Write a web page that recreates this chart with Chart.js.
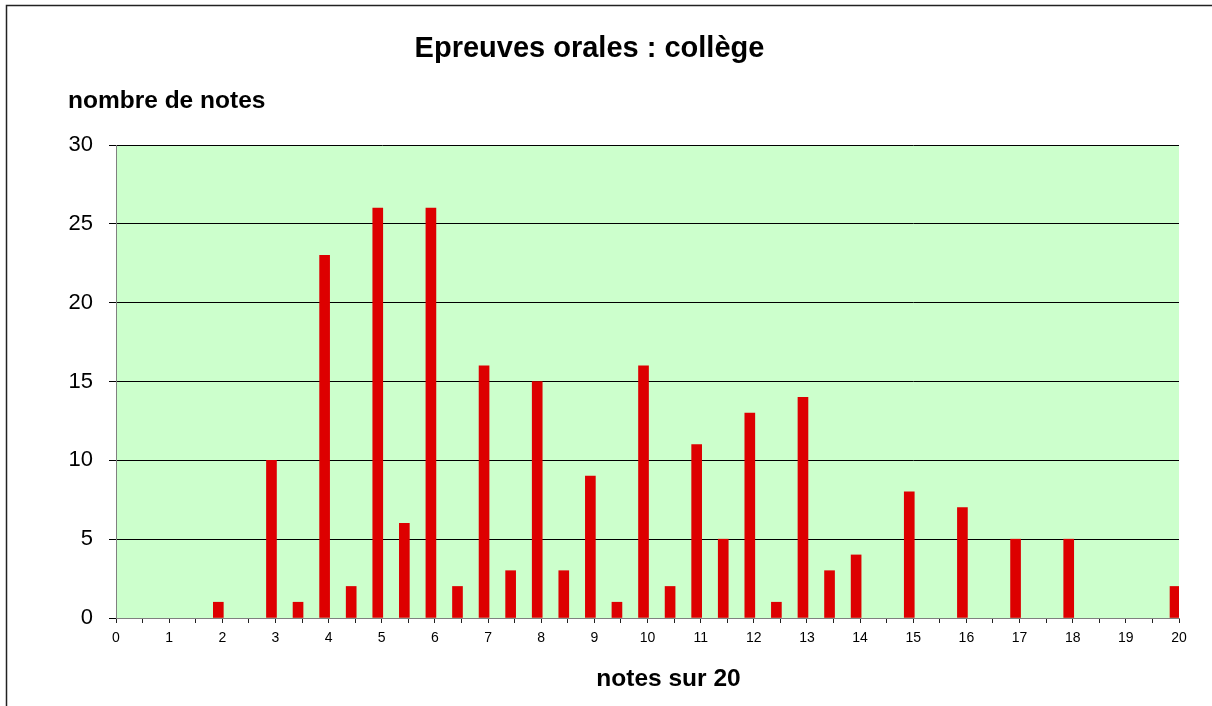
<!DOCTYPE html>
<html>
<head>
<meta charset="utf-8">
<script src="https://cdn.jsdelivr.net/npm/chart.js@4/dist/chart.umd.min.js"></script>
<style>
  html, body { margin: 0; padding: 0; background: #fff; }
  canvas { display: block; }
</style>
</head>
<body>
<canvas id="c" width="1212" height="706"></canvas>
<script>
// ---- data ----
const chartTitle = "Epreuves orales : collège";
const yTitle = "nombre de notes";
const xTitle = "notes sur 20";
const notes  = [2, 3, 3.5, 4, 4.5, 5, 5.5, 6, 6.5, 7, 7.5, 8, 8.5, 9, 9.5, 10, 10.5, 11, 11.5, 12, 12.5, 13, 13.5, 14, 15, 16, 17, 18, 20];
const counts = [1, 10, 1, 23, 2, 26, 6, 26, 2, 16, 3, 15, 3, 9, 1, 16, 2, 11, 5, 13, 1, 14, 3, 4, 8, 7, 5, 5, 2];
const xMin = 0, xMax = 20, xStep = 0.5;
const yMin = 0, yMax = 30, yStep = 5;

const FONT = '"Liberation Sans", Arial, Helvetica, sans-serif';

const points = notes.map((n, i) => ({ x: n, y: counts[i] }));

const decor = {
  id: 'decor',
  beforeDraw(chart) {
    const { ctx, chartArea: a } = chart;
    ctx.save();
    ctx.fillStyle = '#fff';
    ctx.fillRect(0, 0, chart.width, chart.height);
    ctx.fillStyle = '#CCFFCC';
    ctx.fillRect(a.left, a.top, a.right - a.left, a.bottom - a.top);
    ctx.restore();
  },
  afterDraw(chart) {
    const { ctx } = chart;
    ctx.save();
    ctx.strokeStyle = '#222';
    ctx.lineWidth = 1.5;
    ctx.strokeRect(6.5, 5.5, 1400, 1000);
    ctx.fillStyle = '#000';
    ctx.textBaseline = 'alphabetic';
    ctx.textAlign = 'center';
    ctx.font = 'bold 29px ' + FONT;
    ctx.fillText(chartTitle, 589.5, 57);
    ctx.textAlign = 'left';
    ctx.font = 'bold 24.5px ' + FONT;
    ctx.fillText(yTitle, 68, 108);
    ctx.textAlign = 'center';
    ctx.fillText(xTitle, 668.5, 686);
    ctx.restore();
  }
};

new Chart(document.getElementById('c'), {
  type: 'bar',
  data: {
    datasets: [{
      data: points,
      xAxisID: 'xb',
      backgroundColor: '#DD0000',
      borderWidth: 0,
      barThickness: 10
    }]
  },
  options: {
    responsive: false,
    animation: false,
    devicePixelRatio: 1,
    layout: { padding: { top: 145, right: 33, left: 0, bottom: 0 } },
    plugins: { legend: { display: false }, tooltip: { enabled: false }, title: { display: false } },
    scales: {
      x: {
        type: 'linear',
        position: 'bottom',
        offset: false,
        min: xMin, max: xMax,
        afterFit(s) { s.height = 88; },
        afterBuildTicks(s) {
          const t = [];
          for (let v = xMin; v <= xMax + 1e-9; v += xStep) t.push({ value: v });
          s.ticks = t;
        },
        ticks: {
          autoSkip: false, maxRotation: 0, minRotation: 0,
          padding: 7,
          color: '#000',
          font: { family: FONT, size: 14 },
          callback: (v) => Number.isInteger(v) ? String(v) : ''
        },
        grid: { offset: false, drawOnChartArea: false, drawTicks: true, tickLength: 5, color: '#222', lineWidth: 1 },
        border: { display: true, color: '#808080', width: 1 }
      },
      xb: {
        type: 'linear',
        display: false,
        offset: false,
        grid: { offset: false },
        min: xMin + 0.075, max: xMax + 0.075
      },
      y: {
        min: yMin, max: yMax,
        afterFit(s) { s.width = 116; },
        ticks: {
          stepSize: yStep,
          padding: 16,
          color: '#000',
          font: { family: FONT, size: 22 }
        },
        grid: { color: '#000', lineWidth: 1, tickLength: 7, drawTicks: true },
        border: { display: true, color: '#808080', width: 1 }
      }
    }
  },
  plugins: [decor]
});
</script>
</body>
</html>
